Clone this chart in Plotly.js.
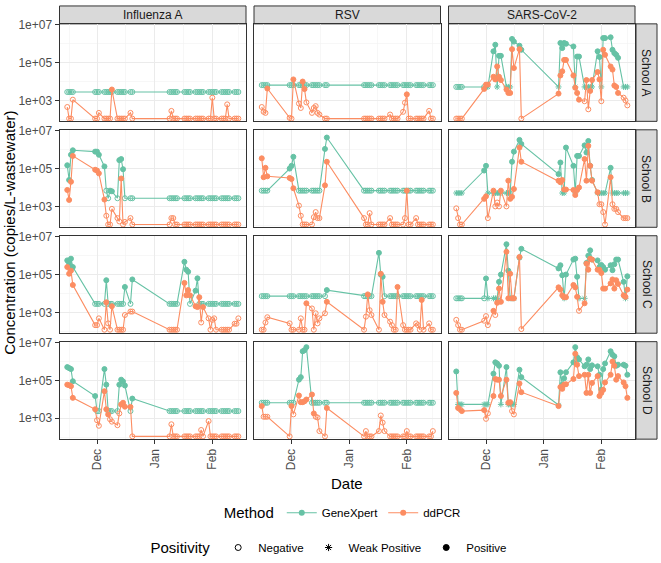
<!DOCTYPE html>
<html><head><meta charset="utf-8">
<script src="https://cdn.plot.ly/plotly-3.0.1.min.js"></script>
<style>body{margin:0;background:#fff}#chart{width:661px;height:563px}</style>
</head><body><div id="chart"></div>
<script>
const dates = ['2022-11-15','2022-11-16','2022-11-17','2022-11-18','2022-11-30',
'2022-12-01','2022-12-02','2022-12-05','2022-12-06','2022-12-07',
'2022-12-08','2022-12-09','2022-12-12','2022-12-13','2022-12-14',
'2022-12-15','2022-12-16','2022-12-19','2022-12-20','2023-01-09',
'2023-01-10','2023-01-11','2023-01-12','2023-01-13','2023-01-17',
'2023-01-18','2023-01-19','2023-01-20','2023-01-23','2023-01-24',
'2023-01-25','2023-01-26','2023-01-27','2023-01-30','2023-01-31',
'2023-02-01','2023-02-02','2023-02-03','2023-02-06','2023-02-07',
'2023-02-08','2023-02-09','2023-02-10','2023-02-13','2023-02-14',
'2023-02-15'];
const viruses = ['Influenza A','RSV','SARS-CoV-2'];
const schools = ['School A','School B','School C','School D'];
const methods = ['GeneXpert','ddPCR'];
const methodColors = ['#66C2A5','#FC8D62'];
const positivityLevels = ['Negative','Weak Positive','Positive'];
const monthTickVals = ['2022-12-01','2023-01-01','2023-02-01'];
const monthTickText = ['Dec','Jan','Feb'];
const concTickVals = [1e3,1e5,1e7];
const concTickText = ['1e+03','1e+05','1e+07'];

// ---------- School A ----------
const aFluGX = [2.8e3,2.8e3,2.8e3,2.8e3,2.8e3, 2.8e3,2.8e3,2.8e3,2.8e3,2.8e3, 2.8e3,2.8e3,2.8e3,2.8e3,2.8e3, 2.8e3,2.8e3,2.8e3,2.8e3,2.8e3, 2.8e3,2.8e3,2.8e3,2.8e3,2.8e3, 2.8e3,2.8e3,2.8e3,2.8e3,2.8e3, 2.8e3,2.8e3,2.8e3,2.8e3,2.8e3, 2.8e3,2.8e3,2.8e3,2.8e3,2.8e3, 2.8e3,2.8e3,2.8e3,2.8e3,2.8e3, 2.8e3];
const aFluGXPos = 'NNNNN NNNNN NNNNN NNNNN NNNNN NNNNN NNNNN NNNNN NNNNN N';
const aFluDD = [4.5e2,1.1e2,1.1e2,1.1e3,1.1e2, 1.1e2,2.2e2,1.1e2,1.1e2,1.1e2, 1.1e2,3.8e3,1.1e2,1.1e2,1.1e2, 1.1e2,1.1e2,2.2e2,1.1e2,1.1e2, 2.8e2,1.1e2,1.1e2,1.1e2,1.1e2, 1.1e2,1.1e2,1.1e2,1.1e2,1.1e2, 1.1e2,1.1e2,1.1e2,1.1e2,1.1e2, 1.4e3,1.1e2,1.1e2,1.1e2,1.1e2, 1.1e2,6.2e2,1.1e2,1.1e2,1.1e2, 1.1e2];
const aFluDDPos = 'NNNNN NNNNN NPNNN NNNNN NNNNN NNNNN NNNNN NNNNN NNNNN N';
const aRsvGX = [6.5e3,6.5e3,6.5e3,6.5e3,6.5e3, 6.5e3,6.5e3,6.5e3,6.5e3,6.5e3, 6.5e3,6.5e3,6.5e3,6.5e3,6.5e3, 6.5e3,6.5e3,6.5e3,6.5e3,6.5e3, 6.5e3,6.5e3,6.5e3,6.5e3,6.5e3, 6.5e3,6.5e3,6.5e3,6.5e3,6.5e3, 6.5e3,6.5e3,6.5e3,6.5e3,6.5e3, 6.5e3,6.5e3,6.5e3,6.5e3,6.5e3, 6.5e3,6.5e3,6.5e3,6.5e3,6.5e3, 6.5e3];
const aRsvGXPos = 'NNNNN NNNNN NNNNN NNNNN NNNNN NNNNN NNNNN NNNNN NNNNN N';
const aRsvDD = [4.5e2,2.5e2,2.2e2,4.3e3,1.2e2, 1.1e2,1.3e4,6.9e2,4.0e2,1.0e4, 4.0e3,7.9e2,2.2e2,4.0e2,5.0e2, 2.2e2,1.8e2,1.1e2,1.1e2,1.1e2, 1.1e2,1.1e2,1.1e2,1.1e2,1.1e2, 1.1e2,1.1e2,1.1e2,1.8e2,1.1e2, 1.1e2,1.1e2,1.1e2,2.5e2,7.6e2, 2.1e3,1.1e2,1.1e2,1.1e2,1.1e2, 1.1e2,1.1e2,1.1e2,2.8e2,1.1e2, 1.1e2];
const aRsvDDPos = 'NNNPN NPNNP PNNNN NNNNN NNNNN NNNNN NNNNN PNNNN NNNNN N';
const aSarsGX = [5.2e3,5.2e3,5.2e3,5.2e3,5.2e3, 5.2e3,5.2e3,4.0e5,8.9e5,5.2e3, 2.3e5,2.3e5,5.2e3,5.2e3,5.2e3, 1.8e6,1.3e6,7.9e5,4.8e5,5.2e3, 1.1e6,5.9e5,1.1e6,1.0e6,7.2e5, 5.2e3,2.1e5,2.1e5,5.2e3,5.2e3, 5.2e3,5.2e3,5.2e3,4.0e5,2.0e5, 5.2e3,2.0e6,2.0e6,2.2e6,4.8e5, 3.2e5,2.6e5,1.8e5,5.2e3,5.2e3, 5.2e3];
const aSarsGXPos = 'NNNNN WWPPW PPWWW PPPPW PPPPP WPPWW WWWPP WPPPP PPPWW W';
const aSarsDD = [1.1e2,1.1e2,1.1e2,1.1e2,4.1e3, 6.9e3,6.9e3,1.8e4,1.3e4,6.3e4, 1.8e4,1.2e4,3.8e3,2.5e3,2.5e3, 5.2e5,5.2e4,5.2e5,1.1e2,2.3e3, 2.1e4,3.5e4,1.4e5,1.4e5,2.1e4, 4.7e3,2.5e3,1.1e3,9.1e2,1.2e4, 3.4e2,3.2e3,1.2e4,3.2e4,1.3e4, 9.1e2,4.8e5,2.6e5,6.3e4,4.3e4, 6.2e3,5.2e3,2.5e3,1.4e3,1.0e3, 5.5e2];
const aSarsDDPos = 'NNNNP PPPPP PPPPP PPPNP PPPPP PPPNP NPPPP NPPPP PPPNN N';

// ---------- School B ----------
const bFluGX = [1.5e5,2.5e4,5.4e5,9.3e5,7.9e5, 7.9e5,5.4e5,1.3e5,6.8e3,2.7e3, 6.8e3,6.3e3,2.7e3,2.8e5,3.2e5, 9.3e4,2.7e3,2.7e3,2.7e3,2.7e3, 2.7e3,2.7e3,2.7e3,2.7e3,2.7e3, 2.7e3,2.7e3,2.7e3,2.7e3,2.7e3, 2.7e3,2.7e3,2.7e3,2.7e3,2.7e3, 2.7e3,2.7e3,2.7e3,2.7e3,2.7e3, 2.7e3,2.7e3,2.7e3,2.7e3,2.7e3, 2.7e3];
const bFluGXPos = 'PPPPP PPPNN PPNPP PNNNN NNNNN NNNNN NNNNN NNNNN NNNNN N';
const bFluDD = [7.4e3,2.2e3,2.0e4,4.7e5,8.7e4, 7.9e4,5.6e4,2.3e3,3.2e2,1.1e2, 1.1e2,7.4e2,2.4e2,1.6e2,3.0e4, 1.1e2,1.5e2,2.4e2,1.1e2,1.1e2, 2.4e2,2.4e2,1.1e2,1.1e2,1.1e2, 1.1e2,1.1e2,1.1e2,1.1e2,1.1e2, 1.1e2,1.1e2,1.1e2,1.1e2,1.1e2, 1.1e2,1.1e2,1.1e2,1.1e2,1.1e2, 1.1e2,1.1e2,1.1e2,1.1e2,1.1e2, 1.1e2];
const bFluDDPos = 'PPPPP PPPNN NNNNP NNNNN NNNNN NNNNN NNNNN NNNNN NNNNN N';
const bRsvGX = [6.8e3,6.8e3,6.8e3,6.8e3,1.0e5, 1.4e5,4.2e5,6.8e3,6.8e3,6.8e3, 6.8e3,6.8e3,6.8e3,6.8e3,6.8e3, 6.8e3,6.8e3,1.1e6,4.4e6,6.8e3, 6.8e3,6.8e3,6.8e3,6.8e3,6.8e3, 6.8e3,6.8e3,6.8e3,6.8e3,6.8e3, 6.8e3,6.8e3,6.8e3,6.8e3,6.8e3, 6.8e3,6.8e3,6.8e3,6.8e3,6.8e3, 6.8e3,6.8e3,6.8e3,6.8e3,6.8e3, 6.8e3];
const bRsvGXPos = 'NNNNP PPNNN NNNNN NNPPN NNNNN NNNNN NNNNN NNNNN NNNNN N';
const bRsvDD = [3.5e5,3.5e4,1.1e5,3.9e4,3.2e4, 2.8e4,9.1e3,1.1e3,3.2e2,1.1e2, 1.1e2,1.1e2,1.1e2,2.7e2,5.0e2, 2.4e2,2.4e2,1.3e4,2.3e5,2.4e2, 1.1e2,1.1e2,4.4e2,1.1e2,1.1e2, 1.1e2,1.1e2,1.1e2,2.4e2,1.1e2, 1.1e2,1.1e2,1.1e2,1.1e2,2.4e2, 6.8e3,1.1e2,1.1e2,2.4e2,1.1e2, 1.1e2,1.1e2,1.1e2,1.1e2,1.1e2, 1.1e2];
const bRsvDDPos = 'PPPPP PPNNN NNNNN NNPPN NNNNN NNNNN NNNNN PNNNN NNNNN N';
const bSarsGX = [5.1e3,5.1e3,5.1e3,5.1e3,7.9e4, 1.4e5,5.1e3,5.1e3,5.1e3,5.1e3, 5.1e3,5.1e3,5.1e3,5.1e3,5.1e3, 2.3e5,7.9e5,3.3e6,2.0e6,5.1e4, 2.1e5,5.1e3,5.1e3,1.3e6,1.4e5, 5.1e3,4.7e5,4.7e5,1.7e6,7.1e5, 2.9e6,1.4e5,2.5e4,5.1e3,5.1e3, 5.1e3,5.1e3,5.1e3,1.1e5,5.1e3, 5.1e3,5.1e3,5.1e3,5.1e3,5.1e3, 5.1e3];
const bSarsGXPos = 'WWWWP PWWWW WWWWW PPPPP PWWPP WPPPP PPPWW WWWPW WWWWW W';
const bSarsDD = [7.9e2,2.4e2,1.1e2,1.1e2,2.5e3, 3.4e3,2.4e2,6.8e3,1.0e3,1.6e3, 1.0e3,6.8e3,1.0e3,2.3e4,2.5e3, 3.2e3,8.3e3,1.3e6,2.3e5,2.3e4, 1.9e4,2.5e4,7.8e3,7.8e3,7.4e3, 4.0e3,7.4e3,1.0e4,3.2e5,2.3e4, 1.6e6,1.4e5,2.3e4,5.6e3,1.3e3, 1.3e3,5.0e2,1.1e2,3.5e4,1.3e3, 7.4e2,7.4e2,5.0e2,2.4e2,2.4e2, 2.4e2];
const bSarsDDPos = 'NNNNP PNPNN NPNPP PPPPP PPPPP PPPPP PPPPN NNNPN NNNNN N';

// ---------- School C ----------
const cFluGX = [5.6e5,3.8e5,6.9e5,2.5e5,2.8e3, 2.8e3,2.8e3,2.8e3,5.0e4,2.8e3, 2.8e3,2.8e3,2.8e3,2.8e3,2.8e3, 2.8e3,2.2e4,2.8e3,5.5e4,2.8e3, 2.8e3,2.8e3,2.8e3,2.8e3,4.7e5, 1.8e5,1.4e5,2.8e3,1.4e4,6.3e4, 2.8e3,2.8e3,2.8e3,2.8e3,2.8e3, 2.8e3,2.8e3,2.8e3,2.8e3,2.8e3, 2.8e3,2.8e3,2.8e3,2.8e3,2.8e3, 2.8e3];
const cFluGXPos = 'PPPPN NNNPN NNNNN NPNPN NNNNP PPNPP NNNNN NNNNN NNNNN N';
const cFluDD = [2.5e5,1.1e5,1.6e5,2.8e4,2.1e2, 2.1e2,4.8e2,1.2e2,3.4e3,2.6e2, 1.2e2,2.1e3,1.2e2,1.2e2,1.2e2, 1.2e2,7.2e2,1.1e3,1.1e3,1.2e2, 1.2e2,1.2e2,1.2e2,1.2e2,3.6e4, 7.9e3,1.5e4,7.9e3,2.1e3,1.9e3, 6.3e3,2.9e2,1.9e3,4.8e2,1.2e2, 4.0e2,4.8e2,1.2e2,1.2e2,1.2e2, 1.2e2,1.2e2,1.2e2,2.5e2,2.5e2, 4.8e2];
const cFluDDPos = 'PPPPN NNNPN NPNNN NNNNN NNNNP PPPPP PNPNN NNNNN NNNNN N';
const cRsvGX = [7.2e3,7.2e3,7.2e3,7.2e3,7.2e3, 7.2e3,7.2e3,7.2e3,7.2e3,7.2e3, 7.2e3,7.2e3,7.2e3,7.2e3,7.2e3, 7.2e3,7.2e3,7.2e3,1.5e4,7.2e3, 7.2e3,7.2e3,7.2e3,7.2e3,1.4e6, 1.0e5,7.6e4,7.2e3,7.2e3,7.2e3, 7.2e3,7.2e3,7.2e3,7.2e3,7.2e3, 7.2e3,7.2e3,7.2e3,7.2e3,7.2e3, 7.2e3,7.2e3,7.2e3,7.2e3,7.2e3, 7.2e3];
const cRsvGXPos = 'NNNNN NNNNN NNNNN NNNPN NNNNP PPNNN NNNNN NNNNN NNNNN N';
const cRsvDD = [1.2e2,1.2e2,2.9e2,5.5e2,2.6e2, 1.2e2,1.2e2,1.2e2,4.8e2,1.2e2, 1.2e2,3.0e3,1.6e3,1.2e2,8.9e2, 2.6e2,4.8e2,8.9e2,3.6e3,1.2e2, 5.9e2,8.9e3,1.3e3,7.2e2,1.2e2, 1.1e5,3.6e3,7.2e2,3.2e2,2.1e2, 1.2e2,1.2e2,2.2e4,2.1e2,1.2e2, 1.2e2,1.2e2,1.2e2,2.6e2,2.1e2, 1.2e2,4.5e3,1.2e2,2.6e2,1.2e2, 1.2e2];
const cRsvDDPos = 'NNNNN NNNNN NPNNN NNNPN NPNNN PPNNN NNPNN NNNNN NPNNN N';
const cSarsGX = [5.5e3,5.5e3,5.5e3,5.5e3,5.5e3, 6.2e4,5.5e3,5.5e3,5.5e3,5.5e3, 4.1e4,1.0e5,4.0e6,1.6e5,5.5e3, 5.5e3,5.5e3,7.9e5,2.3e6,2.1e5, 3.1e5,9.1e4,5.5e3,1.0e5,6.2e5, 6.9e5,7.6e4,5.5e3,5.5e3,4.1e5, 1.0e6,1.9e6,6.2e5,5.6e5,2.5e5, 3.2e5,2.5e5,1.8e5,3.1e5,1.7e5, 3.5e5,6.2e5,6.2e5,4.1e4,5.5e3, 8.1e4];
const cSarsGXPos = 'NNNNN PWWWW PPPPW WWPPP PPWPP PPWWP PPPPP PPPPP PPPPW P';
const cSarsDD = [4.0e2,2.1e2,1.2e2,1.2e2,3.6e2, 6.3e2,2.1e2,1.2e3,7.2e2,3.2e3, 1.8e4,3.6e3,1.6e6,5.5e3,1.1e5, 5.5e3,5.5e3,8.5e5,1.3e2,2.1e4, 1.6e4,7.9e3,6.3e3,6.3e3,2.8e4, 2.1e4,6.6e3,1.2e3,3.0e3,3.8e5, 1.8e5,6.9e5,6.2e5,1.8e5,1.8e5, 1.2e5,1.8e4,1.8e4,3.4e4,5.5e4, 1.8e4,5.0e4,3.2e4,7.9e3,6.6e3, 1.6e4];
const cSarsDDPos = 'NNNNN NNPNP PPPPP PPPNP PPPPP PPNPP PPPPP PPPPP PPPPP P';

// ---------- School D ----------
const dFluGX = [5.1e5,4.5e5,4.0e5,9.1e4,1.5e4, 2.4e3,2.4e3,4.0e5,6.0e4,2.4e3, 2.4e3,2.4e3,2.4e3,6.0e4,1.1e5, 8.9e4,5.4e4,2.4e3,1.1e4,2.4e3, 2.4e3,2.4e3,2.4e3,2.4e3,2.4e3, 2.4e3,2.4e3,2.4e3,2.4e3,2.4e3, 2.4e3,2.4e3,2.4e3,2.4e3,2.4e3, 2.4e3,2.4e3,2.4e3,2.4e3,2.4e3, 2.4e3,2.4e3,2.4e3,2.4e3,2.4e3, 2.4e3];
const dFluGXPos = 'PPPPP NNPPN NNNPP PPNPN NNNNN NNNNN NNNNN NNNNN NNNNN N';
const dFluDD = [6.0e4,5.6e4,5.0e4,1.2e4,3.0e3, 7.9e2,4.0e2,2.7e4,3.0e3,1.6e3, 8.9e2,6.6e2,4.3e2,1.8e3,5.4e3, 6.6e3,4.1e3,4.0e3,1.1e2,1.1e2, 4.8e2,1.1e2,1.1e2,1.1e2,1.1e2, 1.1e2,1.1e2,1.1e2,1.1e2,1.1e2, 1.1e2,2.4e2,1.1e2,7.1e2,1.1e2, 1.1e2,1.1e2,1.1e2,1.1e2,1.1e2, 1.1e2,1.1e2,1.1e2,1.1e2,1.1e2, 1.1e2];
const dFluDDPos = 'PPPPP NNPPP NNNNP PPPNN NNNNN NNNNN NNNNN NNNNN NNNNN N';
const dRsvGX = [6.6e3,6.6e3,6.6e3,6.6e3,6.6e3, 6.6e3,6.6e3,1.1e5,1.5e5,3.5e6, 4.0e6,5.8e6,6.6e3,6.6e3,6.6e3, 6.6e3,6.6e3,6.6e3,6.6e3,6.6e3, 6.6e3,6.6e3,6.6e3,6.6e3,6.6e3, 6.6e3,6.6e3,6.6e3,6.6e3,6.6e3, 6.6e3,6.6e3,6.6e3,6.6e3,6.6e3, 6.6e3,6.6e3,6.6e3,6.6e3,6.6e3, 6.6e3,6.6e3,6.6e3,6.6e3,6.6e3, 6.6e3];
const dRsvGXPos = 'NNNNN NNPPP PPNNN NNNNN NNNNN NNNNN NNNNN NNNNN NNNNN N';
const dRsvDD = [4.4e3,1.2e3,1.2e3,1.2e3,1.1e2, 4.4e3,1.6e3,1.6e4,7.1e3,7.1e3, 7.9e3,9.8e3,1.8e4,1.8e3,1.2e3, 1.1e3,2.1e2,1.1e2,3.5e3,1.1e2, 2.1e2,1.1e2,1.1e2,1.1e2,2.1e2, 1.4e3,5.9e2,2.1e2,1.1e2,1.1e2, 1.1e2,1.1e2,1.1e2,1.1e2,1.1e2, 2.1e2,1.1e2,1.1e2,1.1e2,1.1e2, 1.1e2,1.1e2,1.1e2,1.1e2,1.1e2, 2.1e2];
const dRsvDDPos = 'PNNNN PNPPP PPPPN NNNPN NNNNN NNNNN NNNNN NNNNN NNNNN N';
const dSarsGX = [3.0e5,5.4e3,5.4e3,5.4e3,5.4e3, 5.4e3,5.4e3,2.3e5,9.1e5,7.9e5, 6.0e5,5.4e3,5.1e5,5.4e3,5.4e3, 5.4e3,5.4e3,3.7e5,1.5e5,5.0e3, 2.7e5,6.0e4,1.3e5,2.7e5,9.1e5, 5.8e6,1.7e6,1.3e6,5.6e5,6.8e5, 1.3e6,4.0e5,6.3e5,5.6e5,2.0e5, 3.3e4,4.0e5,7.9e5,3.5e6,2.3e6, 1.9e6,6.0e5,6.8e5,6.8e5,6.0e5, 2.0e5];
const dSarsGXPos = 'PWWWW WWPPP PWPWW WWPPW PPPPP PPPPP PPPPP PPPPP PPPPP P';
const dSarsDD = [2.2e4,3.5e3,3.0e3,2.4e3,2.7e3, 9.3e2,1.8e3,1.5e4,1.2e5,1.1e5, 1.1e5,1.5e4,1.1e5,6.6e3,7.1e3, 2.4e3,1.6e3,6.9e4,2.4e4,4.4e3, 4.5e4,3.6e4,6.0e4,6.3e4,1.2e5, 2.6e6,6.8e5,1.7e5,2.0e5,2.2e4, 2.0e5,2.2e4,7.4e4,1.7e5,1.5e4, 2.2e4,3.2e4,7.9e4,2.0e5,1.0e6, 6.0e5,1.1e5,1.7e5,7.9e4,5.0e4, 1.2e4];
const dSarsDDPos = 'PPNPP NNPPP PPPPP NNPPP PPPPP PPPPP PPPPP PPPPP PPPPP P';

const panelData = [
  [[aFluGX,aFluGXPos,aFluDD,aFluDDPos],[aRsvGX,aRsvGXPos,aRsvDD,aRsvDDPos],[aSarsGX,aSarsGXPos,aSarsDD,aSarsDDPos]],
  [[bFluGX,bFluGXPos,bFluDD,bFluDDPos],[bRsvGX,bRsvGXPos,bRsvDD,bRsvDDPos],[bSarsGX,bSarsGXPos,bSarsDD,bSarsDDPos]],
  [[cFluGX,cFluGXPos,cFluDD,cFluDDPos],[cRsvGX,cRsvGXPos,cRsvDD,cRsvDDPos],[cSarsGX,cSarsGXPos,cSarsDD,cSarsDDPos]],
  [[dFluGX,dFluGXPos,dFluDD,dFluDDPos],[dRsvGX,dRsvGXPos,dRsvDD,dRsvDDPos],[dSarsGX,dSarsGXPos,dSarsDD,dSarsDDPos]]
];

const symbolFor = {N:'circle-open', W:'asterisk-open', P:'circle'};
const W = 661, H = 563;
const colLeft = [59.5, 254, 448.5], panelW = 186.5;
const rowTop = [24, 130.5, 237, 343.5], panelH = 98;
const FONT = 'Liberation Sans, Arial, sans-serif';

const traces = [];
const layout = {
  width: W, height: H, margin: {l:0,r:0,t:0,b:0},
  paper_bgcolor: '#ffffff', plot_bgcolor: '#ffffff',
  font: {family: FONT, color: '#000'},
  showlegend: true, shapes: [], annotations: []
};

for (let r = 0; r < 4; r++) {
  for (let c = 0; c < 3; c++) {
    const k = r*3 + c + 1;
    const xa = k === 1 ? 'x' : 'x'+k, ya = k === 1 ? 'y' : 'y'+k;
    const d = panelData[r][c];
    for (let m = 0; m < 2; m++) {
      const vals = d[m*2], pos = d[m*2+1].replace(/\s/g,'').split('');
      traces.push({
        type: 'scatter', mode: 'lines+markers', x: dates, y: vals,
        xaxis: xa, yaxis: ya, showlegend: false, hoverinfo: 'skip',
        line: {color: methodColors[m], width: 1.1},
        marker: {color: methodColors[m], size: 5, symbol: pos.map(p => symbolFor[p]),
                 line: {color: methodColors[m], width: 1}},
        connectgaps: true
      });
    }
    layout['xaxis'+(k===1?'':k)] = {
      type: 'date', domain: [colLeft[c]/W, (colLeft[c]+panelW)/W], anchor: ya,
      range: ['2022-11-10 20:00', '2023-02-19 02:40'],
      tickmode: 'array', tickvals: monthTickVals, ticktext: monthTickText,
      tickangle: -90, showticklabels: r === 3, ticks: r === 3 ? 'outside' : '',
      ticklen: 4, tickcolor: '#333333', tickwidth: 1,
      tickfont: {size: 12, color: '#4D4D4D', family: FONT},
      showgrid: true, gridcolor: '#EBEBEB', gridwidth: 1,
      minor: {tickvals: ['2022-11-16','2022-12-16 12:00','2023-01-16 12:00','2023-02-15'], showgrid: true, gridcolor: '#F2F2F2', gridwidth: 0.6},
      showline: true, mirror: true, linecolor: '#333333', linewidth: 1, zeroline: false, fixedrange: true
    };
    layout['yaxis'+(k===1?'':k)] = {
      type: 'log', domain: [1-(rowTop[r]+panelH)/H, 1-rowTop[r]/H], anchor: xa,
      range: [1.8947, 7.0526],
      tickmode: 'array', tickvals: concTickVals, ticktext: concTickText,
      showticklabels: c === 0, ticks: c === 0 ? 'outside' : '',
      ticklen: 4, tickcolor: '#333333', tickwidth: 1,
      tickfont: {size: 12, color: '#4D4D4D', family: FONT},
      showgrid: true, gridcolor: '#EBEBEB', gridwidth: 1,
      minor: {tickvals: [1e2,1e4,1e6], showgrid: true, gridcolor: '#F2F2F2', gridwidth: 0.6},
      showline: true, mirror: true, linecolor: '#333333', linewidth: 1, zeroline: false, fixedrange: true
    };
  }
}

// facet strips
viruses.forEach((v, c) => {
  layout.shapes.push({type:'rect', xref:'paper', yref:'paper',
    x0: colLeft[c]/W, x1: (colLeft[c]+panelW)/W, y0: 1-rowTop[0]/H, y1: 1-6/H,
    fillcolor:'#D9D9D9', line:{color:'#333333', width:1}, layer:'below'});
  layout.annotations.push({xref:'paper', yref:'paper', x:(colLeft[c]+panelW/2)/W, y:1-15/H,
    text:v, showarrow:false, xanchor:'center', yanchor:'middle', font:{size:12, color:'#1A1A1A', family:FONT}});
});
schools.forEach((s, r) => {
  layout.shapes.push({type:'rect', xref:'paper', yref:'paper',
    x0: 636/W, x1: 657/W, y0: 1-(rowTop[r]+panelH)/H, y1: 1-rowTop[r]/H,
    fillcolor:'#D9D9D9', line:{color:'#333333', width:1}, layer:'below'});
  layout.annotations.push({xref:'paper', yref:'paper', x:646.5/W, y:1-(rowTop[r]+panelH/2)/H,
    text:s, showarrow:false, textangle:90, xanchor:'center', yanchor:'middle', font:{size:12, color:'#1A1A1A', family:FONT}});
});

// axis titles
layout.annotations.push({xref:'paper', yref:'paper', x:347/W, y:1-486/H, text:'Date', showarrow:false,
  xanchor:'center', yanchor:'middle', font:{size:15, color:'#000', family:FONT}});
layout.annotations.push({xref:'paper', yref:'paper', x:10/W, y:1-234/H, text:'Concentration (copies/L-wastewater)',
  showarrow:false, textangle:-90, xanchor:'center', yanchor:'middle', font:{size:15, color:'#000', family:FONT}});

// legends
methods.forEach((m, i) => {
  traces.push({type:'scatter', mode:'lines+markers', x:[null], y:[null], name:m, legend:'legend',
    line:{color:methodColors[i], width:1.1}, marker:{color:methodColors[i], size:6, symbol:'circle'}, hoverinfo:'skip'});
});
positivityLevels.forEach((p, i) => {
  traces.push({type:'scatter', mode:'markers', x:[null], y:[null], name:p, legend:'legend2',
    marker:{color:'#000', size:6, symbol:['circle-open','asterisk-open','circle'][i], line:{color:'#000', width:1}}, hoverinfo:'skip'});
});
layout.legend = {title:{text:'Method', side:'left', font:{size:15, family:FONT}}, orientation:'h',
  x:0.52, xanchor:'center', y:1-516/H, yanchor:'middle', font:{size:11.5, family:FONT}, bgcolor:'rgba(0,0,0,0)'};
layout.legend2 = {title:{text:'Positivity', side:'left', font:{size:15, family:FONT}}, orientation:'h',
  x:0.5, xanchor:'center', y:1-551/H, yanchor:'middle', font:{size:11.5, family:FONT}, bgcolor:'rgba(0,0,0,0)'};

Plotly.newPlot('chart', traces, layout, {displayModeBar:false, staticPlot:true});
</script></body></html>
